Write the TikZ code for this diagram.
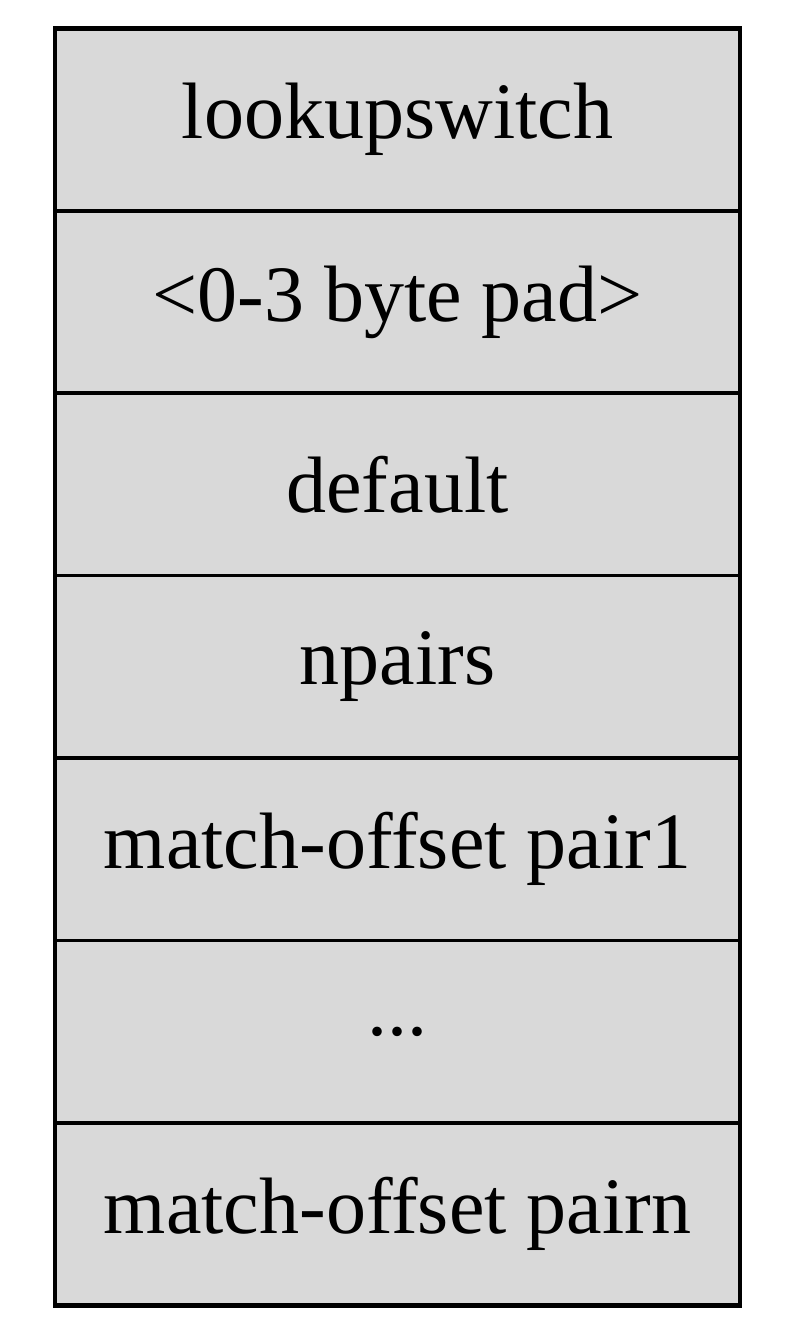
\documentclass[tikz,border=0pt]{standalone}
\usepackage{fontspec}
\setmainfont{Liberation Serif}
\usetikzlibrary{positioning,fit,backgrounds}
\definecolor{cellcol}{HTML}{D9D9D9}

\begin{document}
\begin{tikzpicture}[
  x=0.5pt, y=-0.5pt,
  font=\fontsize{40}{48}\selectfont,
  node distance=0pt,
  field/.style={draw, fill=cellcol, line width=1.8pt, outer sep=0pt,
                minimum width=342.5pt, minimum height=91.2pt, inner sep=0pt,
                align=center},
  frame/.style={draw, line width=2.4pt, inner sep=0pt},
]
\useasboundingbox (0,0) rectangle (796,1332);

% ---------------------------------------------------------------- fields
\node[field] (lookup) at (397.5,119.6) {lookupswitch};
\node[field, below=of lookup] (pad)     {<0-3 byte pad>};
\node[field, below=of pad]    (default) {default};
\node[field, below=of default] (npairs) {npairs};
\node[field, below=of npairs] (pairone) {match-offset pair1};
\node[field, below=of pairone] (dots)   {...};
\node[field, below=of dots]   (pairn)   {match-offset pairn};

% ---------------------------------------------------------------- outline
\node[frame, fit=(lookup)(pairn)] (table) {};

\end{tikzpicture}
\end{document}
